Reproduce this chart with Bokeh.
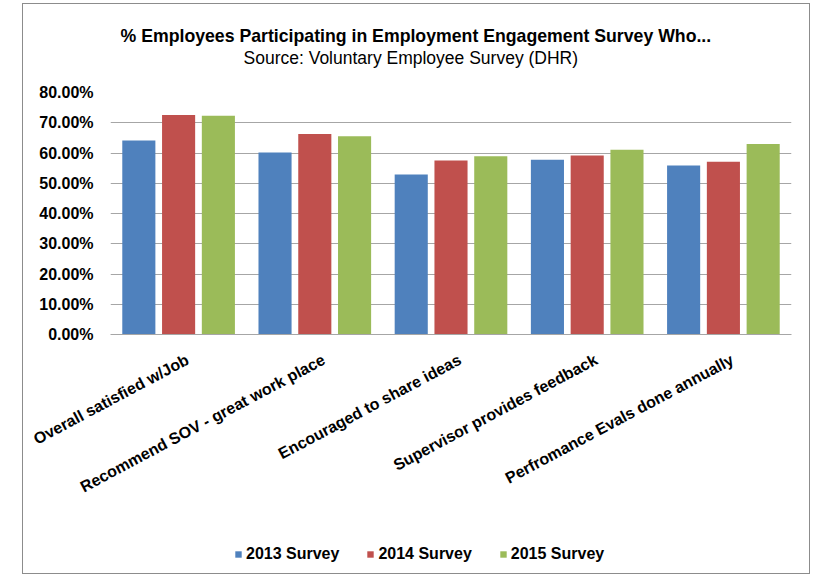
from bokeh.plotting import figure
from bokeh.layouts import column
from bokeh.models import (Range1d, FixedTicker, NumeralTickFormatter,
                          Legend, LegendItem, Title, ColumnDataSource, LinearAxis)
from bokeh.transform import dodge
from bokeh.embed import file_html
from bokeh.resources import INLINE

categories = ["Overall satisfied w/Job", "Recommend SOV - great work place",
              "Encouraged to share ideas", "Supervisor provides feedback",
              "Perfromance Evals done annually"]
series_names = ["2013 Survey", "2014 Survey", "2015 Survey"]
s2013 = [0.641, 0.602, 0.529, 0.578, 0.559]
s2014 = [0.726, 0.663, 0.575, 0.592, 0.571]
s2015 = [0.723, 0.655, 0.589, 0.611, 0.630]
y_ticks = [0.0, 0.1, 0.2, 0.3, 0.4, 0.5, 0.6, 0.7, 0.8]
colors = ["#4F81BD", "#C0504D", "#9BBB59"]

FONT = "Liberation Sans"
GRID = "#a6a6a6"

n = len(categories)
cat_pos = [i + 0.5 for i in range(n)]   # category slot centres on a 0..n axis
src = ColumnDataSource(dict(pos=cat_pos, cat=categories, s2013=s2013, s2014=s2014, s2015=s2015))
keys = ["s2013", "s2014", "s2015"]
offsets = [-0.292, 0.0, 0.292]

p = figure(x_range=Range1d(0, n), y_range=Range1d(0, 0.8),
           width=786, height=524, output_backend="svg", toolbar_location=None,
           min_border_left=87, min_border_right=18, min_border_top=88, min_border_bottom=194,
           x_axis_location=None, title=None)
p.outline_line_color = None
p.background_fill_color = "white"
p.border_fill_color = "white"

for key, off, col in zip(keys, offsets, colors):
    p.vbar(x=dodge("pos", off), top=key, width=0.243,
           source=src, fill_color=col, line_color=None)

# y axis
p.yaxis.ticker = FixedTicker(ticks=y_ticks)
p.yaxis.formatter = NumeralTickFormatter(format="0.00%")
p.yaxis.axis_line_color = None
p.yaxis.major_tick_line_color = None
p.yaxis.major_tick_out = 0
p.yaxis.minor_tick_line_color = None
p.yaxis.major_label_text_font = FONT
p.yaxis.major_label_text_font_style = "bold"
p.yaxis.major_label_text_font_size = "16px"
p.yaxis.major_label_text_color = "#000000"
p.yaxis.major_label_standoff = 17

# category axis (label anchors slightly right of the category centre, like Excel)
shift = 0.066
p.extra_x_ranges = {"lab": Range1d(-shift, n - shift)}
xaxis = LinearAxis(x_range_name="lab", ticker=FixedTicker(ticks=cat_pos),
                   major_label_overrides={pos: c for pos, c in zip(cat_pos, categories)})
xaxis.axis_line_color = GRID
xaxis.major_tick_line_color = None
xaxis.major_tick_out = 0
xaxis.minor_tick_line_color = None
xaxis.major_label_orientation = 0.49
xaxis.major_label_text_font = FONT
xaxis.major_label_text_font_style = "bold"
xaxis.major_label_text_font_size = "16px"
xaxis.major_label_text_color = "#000000"
xaxis.major_label_standoff = 24
p.add_layout(xaxis, "below")

p.xgrid.grid_line_color = None
p.ygrid.grid_line_color = GRID
p.ygrid.ticker = FixedTicker(ticks=y_ticks)

# titles
p.add_layout(Title(text="Source: Voluntary Employee Survey (DHR)", align="left", offset=133,
                   text_font=FONT, text_font_size="17.5px", text_font_style="normal",
                   text_color="#000000", standoff=50), "above")
p.add_layout(Title(text="% Employees Participating in Employment Engagement Survey Who...",
                   align="left", offset=10, text_font=FONT, text_font_size="17.7px",
                   text_font_style="bold", text_color="#000000", standoff=-50), "above")

# legend strip (its bars sit outside the strip's visible range; only the legend shows)
lg = figure(width=786, height=45, output_backend="svg", toolbar_location=None,
            x_range=Range1d(0, n), y_range=Range1d(5, 6),
            x_axis_location=None, y_axis_location=None, title=None,
            min_border_left=0, min_border_right=0, min_border_top=0, min_border_bottom=0)
lg.outline_line_color = None
lg.xgrid.visible = False
lg.ygrid.visible = False
lg.border_fill_color = "white"
leg_renderers = [lg.vbar(x=dodge("pos", off), top=key, width=0.243, source=src,
                         fill_color=c, line_color=None)
                 for key, off, c in zip(keys, offsets, colors)]
legend = Legend(items=[LegendItem(label=nm, renderers=[r]) for nm, r in zip(series_names, leg_renderers)],
                orientation="horizontal", location=(124, 10),
                glyph_width=8, glyph_height=8, label_standoff=4, spacing=27,
                padding=0, margin=0, border_line_color=None, background_fill_alpha=0,
                label_text_font=FONT, label_text_font_style="bold",
                label_text_font_size="16px", label_text_color="#000000")
lg.add_layout(legend, "center")

layout = column(p, lg, spacing=0, margin=(3, 0, 0, 22),
                styles={"border": "1px solid #8c8c8c", "background-color": "white"})

open("out.html", "w").write(file_html(layout, INLINE))
